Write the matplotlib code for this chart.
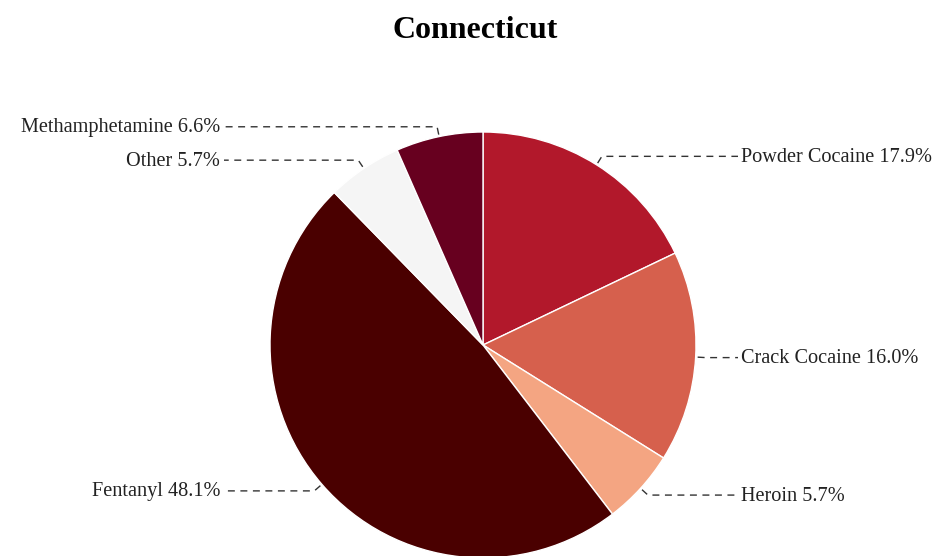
import numpy as np
import matplotlib.pyplot as plt

# data
labels = ["Powder Cocaine", "Crack Cocaine", "Heroin", "Fentanyl", "Other", "Methamphetamine"]
shares = [17.9, 16.0, 5.7, 48.1, 5.7, 6.6]
colors = ["#b2182b", "#d6604d", "#f4a582", "#4a0000", "#f5f5f5", "#67001f"]
title = "Connecticut"

W, H = 938, 556
fig = plt.figure(figsize=(W / 100, H / 100), dpi=100)
ax = fig.add_axes([0, 0, 1, 1])

cx, cy, r = 483, H - 345, 213
wedges, _ = ax.pie(shares, colors=colors, startangle=90, counterclock=False,
                   center=(cx, cy), radius=r, frame=True,
                   wedgeprops=dict(edgecolor="white", linewidth=1))
ax.set_xlim(0, W)
ax.set_ylim(0, H)
ax.set_aspect("equal")
ax.axis("off")

font = ["Liberation Serif", "DejaVu Serif"]
for w, lab, val in zip(wedges, labels, shares):
    ang = np.deg2rad((w.theta1 + w.theta2) / 2)
    x0, y0 = cx + (r + 2) * np.cos(ang), cy + (r + 2) * np.sin(ang)
    x1, y1 = cx + (r + 10) * np.cos(ang), cy + (r + 10) * np.sin(ang)
    right = np.cos(ang) > 0
    xe = 738 if right else 224
    ax.plot([x0, x1, xe], [y0, y1, y1], color="#333333", lw=1, ls=(0, (5, 4)))
    ax.text(xe + (3 if right else -4), y1 - 1, f"{lab} {val:.1f}%",
            ha="left" if right else "right", va="center",
            fontsize=14.6, family=font, color="#222222")

fig.text(475 / W, 1 - 30 / H, title, ha="center", va="center",
         fontsize=23, fontweight="bold", family=font)

fig.savefig("out.png", dpi=100)
